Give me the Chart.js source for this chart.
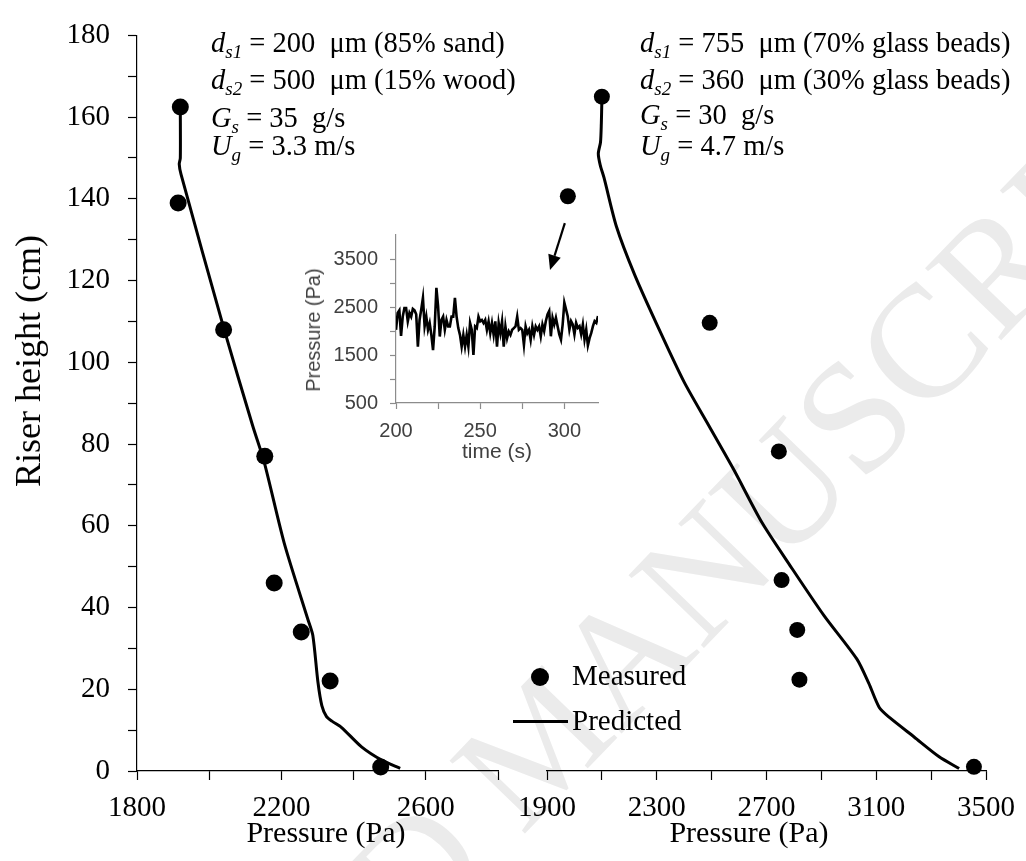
<!DOCTYPE html>
<html>
<head>
<meta charset="utf-8">
<script src="https://cdn.jsdelivr.net/npm/chart.js@4.4.0/dist/chart.umd.min.js"></script>
<style>
  body { margin: 0; background: #fff; }
  #fig { position: relative; width: 1026px; height: 861px; overflow: hidden;
         font-family: "Liberation Serif", "Times New Roman", serif; color: #000; }
  #fig canvas { position: absolute; left: 0; top: 0; }
  .txt { position: absolute; white-space: nowrap; line-height: 1; }
  .note { font-size: 28.5px; }
  .note sub { font-size: 19px; vertical-align: -0.32em; line-height: 1; }
  .axt { font-size: 30px; transform: translateX(-50%); }
  .leg { font-size: 29px; }
  .sans { font-family: "Liberation Sans", Arial, sans-serif; }
  #wm { position: absolute; left: 540px; top: 740px; white-space: nowrap; line-height: 1;
        font-size: 160px; color: #ebebeb;
        transform: translate(-50%, -50%) rotate(-46deg); }
</style>
</head>
<body>
<div id="fig">
  <div id="wm">ACCEPTED MANUSCRIPT</div>
  <canvas id="leftChart" width="1026" height="861"></canvas>
  <canvas id="rightChart" width="1026" height="861"></canvas>
  <canvas id="insetChart" width="1026" height="861"></canvas>

  <!-- titres des axes -->
  <div class="txt" style="left:28px; top:361px; font-size:36px; transform:translate(-50%,-50%) rotate(-90deg);">Riser height (cm)</div>
  <div class="txt axt" style="left:326px; top:817px;">Pressure (Pa)</div>
  <div class="txt axt" style="left:749px; top:817px;">Pressure (Pa)</div>
  <div class="txt sans" style="left:313px; top:330px; font-size:20px; color:#404040; transform:translate(-50%,-50%) rotate(-90deg);">Pressure (Pa)</div>
  <div class="txt sans" style="left:497px; top:440px; font-size:21px; color:#404040; transform:translateX(-50%);">time (s)</div>

  <!-- conditions -->
  <div class="txt note" style="left:211px; top:29px;"><i>d</i><sub><i>s1</i></sub> = 200&nbsp; μm (85% sand)</div>
  <div class="txt note" style="left:211px; top:66px;"><i>d</i><sub><i>s2</i></sub> = 500&nbsp; μm (15% wood)</div>
  <div class="txt note" style="left:211px; top:104px;"><i>G</i><sub><i>s</i></sub> = 35&nbsp; g/s</div>
  <div class="txt note" style="left:211px; top:132px;"><i>U</i><sub><i>g</i></sub> = 3.3 m/s</div>

  <div class="txt note" style="left:640px; top:29px;"><i>d</i><sub><i>s1</i></sub> = 755&nbsp; μm (70% glass beads)</div>
  <div class="txt note" style="left:640px; top:66px;"><i>d</i><sub><i>s2</i></sub> = 360&nbsp; μm (30% glass beads)</div>
  <div class="txt note" style="left:640px; top:101px;"><i>G</i><sub><i>s</i></sub> = 30&nbsp; g/s</div>
  <div class="txt note" style="left:640px; top:132px;"><i>U</i><sub><i>g</i></sub> = 4.7 m/s</div>

  <!-- légende -->
  <div style="position:absolute; left:531px; top:668px; width:18px; height:18px; border-radius:50%; background:#000;"></div>
  <div style="position:absolute; left:513px; top:720px; width:55px; height:3px; background:#000;"></div>
  <div class="txt leg" style="left:572px; top:661px;">Measured</div>
  <div class="txt leg" style="left:572px; top:706px;">Predicted</div>
</div>

<script>
// panneau gauche : 85% sable + 15% bois
const leftMeasuredP = [1920, 1914, 2040, 2154, 2180, 2255, 2335, 2475];
const leftMeasuredH = [162.5, 139, 108, 77, 46, 34, 22, 1];
const leftPredictedP = [1920, 1920, 1917, 1922, 2040, 2120, 2152, 2208, 2273, 2287, 2301, 2312, 2325, 2340, 2366, 2422, 2478, 2529];
const leftPredictedH = [162, 150, 148.5, 146, 108.5, 84.6, 75.7, 55.7, 37.2, 33.2, 21.9, 16, 13.3, 12.2, 10.7, 5.9, 2.65, 0.65];

// panneau droit : billes de verre
const rightMeasuredP = [2100, 1976, 2493, 2745, 2755, 2812, 2820, 3456];
const rightMeasuredH = [162.5, 138.5, 108, 77, 46, 34, 22, 1];
const rightPredictedP = [2100, 2098, 2095, 2087, 2094, 2108, 2153, 2220, 2315, 2400, 2490, 2580, 2684, 2789, 2909, 3029, 3073, 3111, 3148, 3238, 3328, 3402];
const rightPredictedH = [161.7, 156, 151.5, 148.8, 146, 142.9, 131.2, 119.5, 105.5, 93.7, 83.2, 72.7, 59.8, 49.2, 37.5, 27, 21.1, 15.3, 12.9, 8.2, 3.5, 0.6];

// encart : fluctuation de pression
const insetTime = [200, 201, 202, 203, 204, 205, 206, 207, 208, 209, 210, 211, 212, 213, 214, 215, 216, 217, 218, 219,
  220, 221, 222, 223, 224, 225, 226, 227, 228, 229, 230, 231, 232, 233, 234, 235, 236, 237, 238, 239,
  240, 241, 242, 243, 244, 245, 246, 247, 248, 249, 250, 251, 252, 253, 254, 255, 256, 257, 258, 259,
  260, 261, 262, 263, 264, 265, 266, 267, 268, 269, 270, 271, 272, 273, 274, 275, 276, 277, 278, 279,
  280, 281, 282, 283, 284, 285, 286, 287, 288, 289, 290, 291, 292, 293, 294, 295, 296, 297, 298, 299,
  300, 301, 302, 303, 304, 305, 306, 307, 308, 309, 310, 311, 312, 313, 314, 315, 316, 317, 318, 319, 320];
const insetPressure = [2025, 2375, 2430, 1900, 2300, 2480, 2480, 2200, 2375, 2300, 2460, 2430, 2350, 1675, 2230, 2450, 2690, 2095, 2300, 2025,
  2165, 1920, 1600, 2095, 2900, 2515, 1885, 2230, 2300, 2025, 2230, 2095, 2095, 2300, 2300, 2690, 2300, 2060, 1920, 1675,
  1920, 1675, 1920, 1675, 2165, 2025, 1500, 2095, 2060, 2300, 2200, 2230, 2165, 2230, 2025, 2200, 1955, 2165, 1920, 2200,
  1675, 2165, 1955, 2200, 1675, 2095, 1850, 1990, 1920, 2025, 2060, 2095, 2300, 2025, 2060, 2025, 1710, 2095, 1955, 2025,
  1815, 2095, 1920, 2095, 2025, 2095, 1890, 2135, 2000, 2205, 2345, 2416, 1890, 2276, 2135, 2276, 2100, 1930, 1820, 2135,
  2590, 2450, 2310, 2030, 2205, 2135, 1930, 2170, 2066, 2100, 1930, 2135, 1820, 2030, 1700, 1850, 1960, 2100, 2205, 2170, 2310];

// flèche vers le point mesuré (coordonnées du panneau droit)
const arrowFrom = { x: 1965, y: 132 };
const arrowTo = { x: 1911, y: 120.7 };

Chart.defaults.font.family = "'Liberation Serif', 'Times New Roman', serif";
Chart.defaults.color = '#000';

function pts(xs, ys) {
  return xs.map((x, i) => ({ x: x, y: ys[i] }));
}

function measuredSet(xs, ys, r) {
  return { label: 'Measured', data: pts(xs, ys), pointRadius: r, pointBackgroundColor: '#000',
           pointBorderWidth: 0, showLine: false, clip: false };
}
function predictedSet(xs, ys) {
  return { label: 'Predicted', data: pts(xs, ys), showLine: true, borderColor: '#000', borderWidth: 3,
           pointRadius: 0, tension: 0.25, clip: false };
}

function pressureAxis(min, max, first) {
  return {
    type: 'linear', min: min, max: max,
    afterFit: s => { s.height = 90; },
    border: { display: true, color: '#000', width: 1.2 },
    grid: { drawOnChartArea: false, drawTicks: true, tickLength: 9, tickColor: '#000', tickWidth: 1.2 },
    ticks: { stepSize: 200, autoSkip: false, maxRotation: 0, padding: 11, font: { size: 29 },
             callback: v => ((v - first) % 400 === 0 ? v : '') }
  };
}

const heightAxis = {
  type: 'linear', min: 0, max: 180,
  border: { display: true, color: '#000', width: 1.2 },
  grid: { drawOnChartArea: false, drawTicks: true, tickLength: 9, tickColor: '#000', tickWidth: 1.2 },
  ticks: { stepSize: 10, autoSkip: false, padding: 18, font: { size: 29 },
           callback: v => (v % 20 === 0 ? v : '') }
};

const common = {
  responsive: false, animation: false, events: [],
  plugins: { legend: { display: false }, tooltip: { enabled: false } }
};

new Chart(document.getElementById('leftChart'), {
  type: 'scatter',
  data: { datasets: [predictedSet(leftPredictedP, leftPredictedH), measuredSet(leftMeasuredP, leftMeasuredH, 8.5)] },
  options: Object.assign({}, common, {
    layout: { padding: { top: 24, right: 528, bottom: 0, left: 0 } },
    scales: {
      x: pressureAxis(1800, 2800, 1800),
      y: Object.assign({}, heightAxis, { afterFit: s => { s.width = 137; } })
    }
  })
});

const arrowPlugin = {
  id: 'arrow',
  afterDatasetsDraw(chart) {
    const { ctx, scales } = chart;
    const x0 = scales.x.getPixelForValue(arrowFrom.x), y0 = scales.y.getPixelForValue(arrowFrom.y);
    const x1 = scales.x.getPixelForValue(arrowTo.x), y1 = scales.y.getPixelForValue(arrowTo.y);
    const a = Math.atan2(y1 - y0, x1 - x0);
    const len = 15, half = 6.5;
    const bx = x1 - len * Math.cos(a), by = y1 - len * Math.sin(a);
    ctx.save();
    ctx.strokeStyle = '#000';
    ctx.fillStyle = '#000';
    ctx.lineWidth = 2.2;
    ctx.beginPath();
    ctx.moveTo(x0, y0);
    ctx.lineTo(bx, by);
    ctx.stroke();
    ctx.beginPath();
    ctx.moveTo(x1, y1);
    ctx.lineTo(bx + half * Math.sin(a), by - half * Math.cos(a));
    ctx.lineTo(bx - half * Math.sin(a), by + half * Math.cos(a));
    ctx.closePath();
    ctx.fill();
    ctx.restore();
  }
};

new Chart(document.getElementById('rightChart'), {
  type: 'scatter',
  data: { datasets: [predictedSet(rightPredictedP, rightPredictedH), measuredSet(rightMeasuredP, rightMeasuredH, 8)] },
  options: Object.assign({}, common, {
    layout: { padding: { top: 24, right: 40, bottom: 0, left: 547 } },
    scales: {
      x: pressureAxis(1900, 3500, 1900),
      y: Object.assign({}, heightAxis, { display: false })
    }
  }),
  plugins: [arrowPlugin]
});

const grey = '#8c8c8c';
new Chart(document.getElementById('insetChart'), {
  type: 'scatter',
  data: { datasets: [{ data: pts(insetTime, insetPressure), showLine: true, borderColor: '#000', borderWidth: 2.6,
                       pointRadius: 0, tension: 0 }] },
  options: Object.assign({}, common, {
    layout: { padding: { top: 235, right: 428, bottom: 0, left: 0 } },
    scales: {
      x: {
        type: 'linear', min: 200, max: 320,
        afterFit: s => { s.height = 458; },
        border: { color: grey, width: 1.2 },
        grid: { drawOnChartArea: false, tickLength: 6, tickColor: grey, tickWidth: 1.2 },
        ticks: { stepSize: 25, includeBounds: false, autoSkip: false, maxRotation: 0, padding: 10, color: '#404040',
                 font: { family: "'Liberation Sans', Arial, sans-serif", size: 20 },
                 callback: v => (v % 50 === 0 ? v : '') }
      },
      y: {
        type: 'linear', min: 500, max: 4000,
        afterFit: s => { s.width = 396; },
        border: { color: grey, width: 1.2 },
        grid: { drawOnChartArea: false, tickLength: 6, tickWidth: 1.2,
                tickColor: c => (c.tick && c.tick.value === 4000 ? 'rgba(0,0,0,0)' : grey) },
        ticks: { stepSize: 500, autoSkip: false, padding: 12, color: '#404040',
                 font: { family: "'Liberation Sans', Arial, sans-serif", size: 20 },
                 callback: v => ((v - 500) % 1000 === 0 ? v : '') }
      }
    }
  })
});
</script>
</body>
</html>
